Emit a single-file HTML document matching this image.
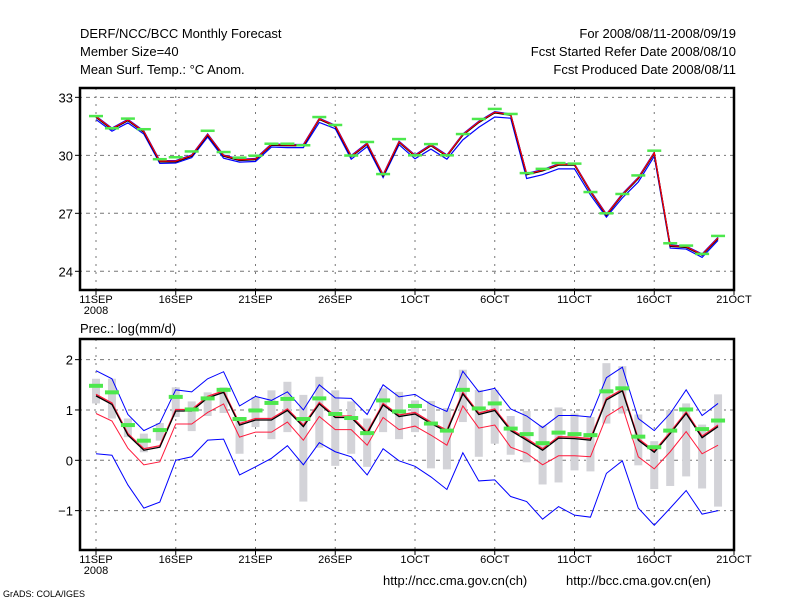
<!DOCTYPE html>
<html><head><meta charset="utf-8"><style>
body{margin:0;background:#fff;}
svg text{font-family:"Liberation Sans",sans-serif;fill:#000;}
</style></head><body>
<svg id="c" width="800" height="600" xmlns="http://www.w3.org/2000/svg">
<g font-size="13">
<text x="80" y="38">DERF/NCC/BCC Monthly Forecast</text>
<text x="80" y="56">Member Size=40</text>
<text x="80" y="74">Mean Surf. Temp.: °C Anom.</text>
<text x="736" y="38" text-anchor="end">For 2008/08/11-2008/09/19</text>
<text x="736" y="56" text-anchor="end">Fcst Started Refer Date 2008/08/10</text>
<text x="736" y="74" text-anchor="end">Fcst Produced Date 2008/08/11</text>
<text x="80" y="333">Prec.: log(mm/d)</text>
<text x="383" y="585">http://ncc.cma.gov.cn(ch)</text>
<text x="566" y="585">http://bcc.cma.gov.cn(en)</text>
<text x="3" y="597" font-size="9">GrADS: COLA/IGES</text>
</g>
</svg>
<script>
const xTicks=["11SEP","16SEP","21SEP","26SEP","1OCT","6OCT","11OCT","16OCT","21OCT"];
const tTicks=[24,27,30,33];
const pTicks=[-1,0,1,2];
const tMean=[31.97,31.35,31.8,31.2,29.67,29.67,29.96,31.05,29.96,29.74,29.78,30.53,30.5,30.5,31.86,31.5,29.93,30.58,28.95,30.67,29.96,30.5,29.96,31.05,31.7,32.2,32.08,29.0,29.2,29.5,29.5,28.12,26.9,27.95,28.8,30.1,25.3,25.24,24.84,25.7];
const tRed=[32.0,31.38,31.83,31.23,29.7,29.7,29.99,31.08,29.99,29.77,29.81,30.56,30.53,30.53,31.89,31.53,29.96,30.61,28.98,30.7,29.99,30.53,29.99,31.08,31.73,32.23,32.11,29.03,29.23,29.53,29.53,28.15,26.93,27.98,28.83,30.13,25.33,25.27,24.87,25.73];
const tBlueHi=[32.03,31.41,31.86,31.26,29.73,29.73,30.02,31.11,30.02,29.8,29.84,30.59,30.56,30.56,31.92,31.56,29.99,30.64,29.01,30.73,30.02,30.56,30.02,31.11,31.76,32.26,32.14,29.06,29.26,29.56,29.56,28.18,26.96,28.01,28.86,30.16,25.36,25.3,24.9,25.76];
const tBlueLo=[31.85,31.25,31.68,31.1,29.58,29.6,29.88,30.95,29.85,29.65,29.68,30.43,30.4,30.4,31.7,31.38,29.8,30.45,28.85,30.55,29.82,30.32,29.8,30.8,31.45,31.98,31.92,28.8,29.0,29.3,29.3,27.95,26.8,27.8,28.62,29.95,25.2,25.15,24.72,25.6];
const tObs=[32.03,31.4,31.9,31.35,29.8,29.9,30.2,31.27,30.17,29.88,29.98,30.6,30.6,30.52,31.98,31.57,29.99,30.69,29.03,30.84,30.0,30.58,30.0,31.1,31.88,32.4,32.14,29.08,29.3,29.6,29.57,28.1,27.0,28.0,28.96,30.24,25.45,25.33,24.9,25.83];
const pMean=[1.28,1.11,0.5,0.2,0.26,0.98,0.98,1.24,1.35,0.7,0.8,0.8,0.99,0.67,1.12,0.85,0.85,0.53,1.1,0.87,0.92,0.73,0.57,1.32,0.91,0.99,0.59,0.4,0.2,0.44,0.43,0.4,1.2,1.38,0.4,0.16,0.53,0.93,0.45,0.67];
const pRedHi=[1.31,1.14,0.53,0.23,0.29,1.01,1.01,1.27,1.38,0.73,0.83,0.83,1.02,0.7,1.15,0.88,0.88,0.56,1.13,0.9,0.95,0.76,0.6,1.35,0.94,1.02,0.62,0.43,0.23,0.47,0.46,0.43,1.23,1.41,0.43,0.19,0.56,0.96,0.48,0.7];
const pRedLo=[0.93,0.78,0.24,-0.09,-0.03,0.72,0.72,0.95,1.12,0.46,0.56,0.56,0.76,0.4,0.87,0.61,0.61,0.3,0.85,0.61,0.68,0.5,0.3,1.08,0.64,0.7,0.26,0.14,-0.09,0.09,0.09,0.07,0.87,1.07,0.07,-0.17,0.17,0.57,0.13,0.3];
const pBlueHi=[1.78,1.62,0.91,0.59,0.74,1.4,1.36,1.62,1.76,1.08,1.27,1.19,1.36,1.0,1.5,1.24,1.23,0.91,1.5,1.26,1.31,1.11,0.97,1.77,1.36,1.43,1.02,0.88,0.65,0.89,0.89,0.86,1.64,1.85,0.83,0.59,0.93,1.4,0.89,1.13];
const pBlueLo=[0.13,0.1,-0.49,-0.95,-0.83,0.0,0.07,0.4,0.42,-0.29,-0.13,0.04,0.29,-0.09,0.35,0.17,0.07,-0.29,0.23,-0.01,-0.12,-0.33,-0.58,0.15,-0.41,-0.39,-0.72,-0.82,-1.17,-0.92,-1.09,-1.13,-0.26,-0.01,-0.95,-1.29,-0.95,-0.6,-1.07,-1.0];
const pObs=[1.48,1.35,0.7,0.39,0.6,1.26,1.01,1.23,1.4,0.82,0.99,1.14,1.22,0.82,1.23,0.92,0.84,0.54,1.19,0.97,1.08,0.73,0.59,1.4,1.03,1.13,0.63,0.52,0.34,0.55,0.52,0.5,1.37,1.43,0.47,0.26,0.59,1.01,0.62,0.79];
const pBarHi=[1.62,1.62,0.83,0.53,0.74,1.45,1.17,1.35,1.45,0.86,1.26,1.39,1.56,1.3,1.66,1.39,1.17,0.83,1.43,1.36,1.19,1.18,1.04,1.8,1.4,1.4,0.88,0.98,0.69,1.05,0.93,0.86,1.93,1.87,0.91,0.38,1.0,1.13,0.71,1.31];
const pBarLo=[1.13,0.83,0.46,0.16,0.39,0.86,0.58,0.88,0.94,0.13,0.66,0.42,0.56,-0.82,0.25,-0.11,0.13,-0.13,0.56,0.42,0.56,-0.16,-0.18,0.76,0.07,0.33,0.11,-0.04,-0.48,-0.44,-0.2,-0.22,0.73,0.93,-0.1,-0.57,-0.51,-0.32,-0.56,-0.92];

const NS="http://www.w3.org/2000/svg";
const svg=document.getElementById('c');
const L=80,R=734;
const xs=d=>96+d*15.95;
const yT=v=>271.3-(v-24)*19.33;
const yP=v=>460.3-v*50.33;
function mk(tag,attrs,parent){const e=document.createElementNS(NS,tag);for(const k in attrs)e.setAttribute(k,attrs[k]);(parent||svg).appendChild(e);return e;}
function panel(top,bot,ticks,yf,name){
  const g=mk('g',{});
  
  
  xTicks.forEach((t,i)=>{const x=xs(i*5);
    const gl=mk('line',{x1:x,x2:x,y1:top,y2:bot,stroke:'#777','stroke-dasharray':'2,6'},g);
    
    
    mk('line',{x1:x,x2:x,y1:bot,y2:bot+5,stroke:'#000'},g);
    const tx=mk('text',{x:x,y:bot+13,'text-anchor':'middle','font-size':11},g);tx.textContent=t;
    
    
    if(i==0){const t2=mk('text',{x:x,y:bot+24,'text-anchor':'middle','font-size':11},g);t2.textContent='2008';
      
      }
  });
  ticks.forEach(v=>{const y=yf(v);
    const gl=mk('line',{x1:L,x2:R,y1:y,y2:y,stroke:'#777','stroke-dasharray':'2,4,4,4'},g);
    
    
    mk('line',{x1:L-5,x2:L,y1:y,y2:y,stroke:'#000'},g);
    const tx=mk('text',{x:L-7,y:y+5,'text-anchor':'end','font-size':13},g);tx.textContent=v<0?'\u2212'+(-v):v;
    
    
  });
  return g;
}
function line(arr,yf,color,w,name,g){
  const p=mk('polyline',{points:arr.map((v,i)=>xs(i)+','+yf(v)).join(' '),fill:'none',stroke:color,'stroke-width':w},g);
  
  
}
function obs(arr,yf,h,name,g){arr.forEach((v,i)=>{
  const r=mk('rect',{x:xs(i)-7,y:yf(v)-h/2,width:14,height:h,fill:'#4de84d'},g);
  
  });}
function border(top,bot,name){const b=mk('rect',{x:L,y:top,width:R-L,height:bot-top,fill:'none',stroke:'#000','stroke-width':2.5});
  
  }

// top panel
const gt=panel(88,290,tTicks,yT,'temperature-panel');
line(tBlueLo,yT,'#0000ff',1.2,'temp-lower-line',gt);
line(tBlueHi,yT,'#0000ff',1.2,'temp-upper-line',gt);
line(tMean,yT,'#000',1.5,'temp-mean-line',gt);
line(tRed,yT,'#ff0000',1.2,'temp-red-line',gt);
obs(tObs,yT,2.5,'temp-obs-marker',gt);
border(88,290,'temp-plot-border');

// bottom panel
const gp=panel(339,550,pTicks,yP,'precip-panel');
pBarHi.forEach((v,i)=>{const r=mk('rect',{x:xs(i)-4,y:yP(v),width:8,height:yP(pBarLo[i])-yP(v),fill:'#d3d3d8'},gp);
  
  });
line(pBlueHi,yP,'#0000ff',1,'precip-upper-blue',gp);
line(pBlueLo,yP,'#0000ff',1,'precip-lower-blue',gp);
line(pRedLo,yP,'#ff1a3c',1,'precip-lower-red',gp);
line(pRedHi,yP,'#ff1a3c',1.3,'precip-upper-red',gp);
line(pMean,yP,'#000',1.3,'precip-mean-line',gp);
obs(pObs,yP,4,'precip-obs-marker',gp);
border(339,550,'precip-plot-border');
</script>
</body></html>
